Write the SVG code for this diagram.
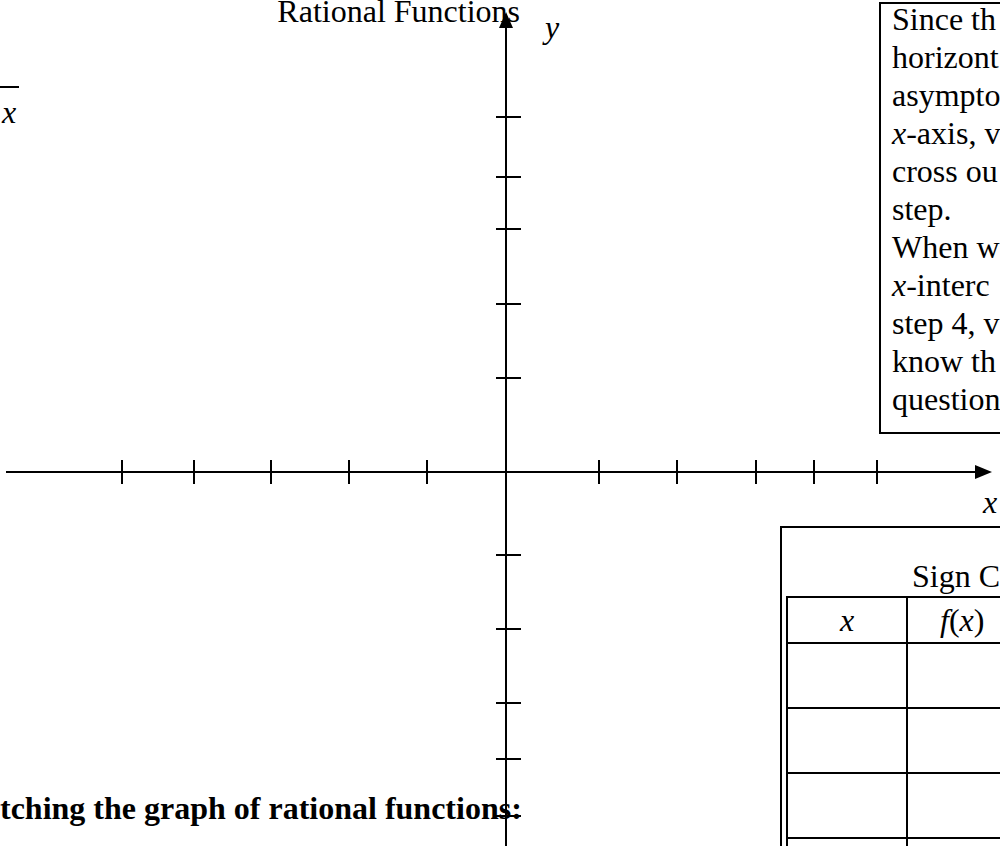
<svg xmlns="http://www.w3.org/2000/svg" width="1000" height="846" viewBox="0 0 1000 846">
<style>
text{font-family:"Liberation Serif","Times New Roman",serif;font-size:32px;fill:#000}
.it{font-style:italic}
.b{font-weight:bold}
.ln{stroke:#000;stroke-width:2;fill:none}
.tk{stroke:#000;stroke-width:2}
</style>
<rect x="0" y="0" width="1000" height="846" fill="#fff"/>
<g id="fraction-fragment">
<line class="ln" x1="0" y1="87" x2="19" y2="87"/>
<text class="it" x="2" y="123">x</text>
</g>
<g id="title"><text x="520" y="22" text-anchor="end">Rational Functions</text></g>
<g id="axes">
<line class="ln" x1="6" y1="472" x2="977" y2="472"/>
<polygon points="992,472 975,465 975,479" fill="#000"/>
<line class="ln" x1="506" y1="846" x2="506" y2="26"/>
<polygon points="506,12 499,28 513,28" fill="#000"/>
<g id="x-ticks">
<line class="tk" x1="122" y1="460" x2="122" y2="484"/>
<line class="tk" x1="194" y1="460" x2="194" y2="484"/>
<line class="tk" x1="271" y1="460" x2="271" y2="484"/>
<line class="tk" x1="349" y1="460" x2="349" y2="484"/>
<line class="tk" x1="427" y1="460" x2="427" y2="484"/>
<line class="tk" x1="599" y1="460" x2="599" y2="484"/>
<line class="tk" x1="677" y1="460" x2="677" y2="484"/>
<line class="tk" x1="756" y1="460" x2="756" y2="484"/>
<line class="tk" x1="814" y1="460" x2="814" y2="484"/>
<line class="tk" x1="877" y1="460" x2="877" y2="484"/>
</g>
<g id="y-ticks">
<line class="tk" x1="496" y1="117" x2="521" y2="117"/>
<line class="tk" x1="496" y1="177" x2="521" y2="177"/>
<line class="tk" x1="496" y1="229" x2="521" y2="229"/>
<line class="tk" x1="496" y1="304" x2="521" y2="304"/>
<line class="tk" x1="496" y1="378" x2="521" y2="378"/>
<line class="tk" x1="496" y1="555" x2="521" y2="555"/>
<line class="tk" x1="496" y1="629" x2="521" y2="629"/>
<line class="tk" x1="496" y1="703" x2="521" y2="703"/>
<line class="tk" x1="496" y1="759" x2="521" y2="759"/>
<line class="tk" x1="496" y1="816" x2="521" y2="816"/>
</g>
<text class="it" x="545" y="38">y</text>
<text class="it" x="983" y="513">x</text>
</g>
<g id="note-box">
<rect class="ln" x="880" y="3" width="200" height="430"/>
<text x="892" y="30">Since th</text>
<text x="892" y="68">horizont</text>
<text x="892" y="106">asympto</text>
<text x="892" y="144"><tspan class="it">x</tspan>-axis, v</text>
<text x="892" y="182">cross ou</text>
<text x="892" y="220">step.</text>
<text x="892" y="258">When w</text>
<text x="892" y="296"><tspan class="it">x</tspan>-interc</text>
<text x="892" y="334">step 4, v</text>
<text x="892" y="372">know th</text>
<text x="892" y="410">question</text>
</g>
<g id="sign-chart">
<rect class="ln" x="781" y="527" width="240" height="330"/>
<text x="912" y="587">Sign C</text>
<rect class="ln" x="787" y="597" width="230" height="260"/>
<line class="ln" x1="907" y1="597" x2="907" y2="846"/>
<text class="it" x="847" y="631" text-anchor="middle">x</text>
<text x="940" y="631"><tspan class="it">f</tspan>(<tspan class="it">x</tspan>)</text>
<line class="ln" x1="787" y1="643" x2="1000" y2="643"/>
<line class="ln" x1="787" y1="708" x2="1000" y2="708"/>
<line class="ln" x1="787" y1="773" x2="1000" y2="773"/>
<line class="ln" x1="787" y1="838" x2="1000" y2="838"/>
</g>
<g id="heading"><text class="b" x="0" y="819">tching the graph of rational functions:</text></g>
</svg>
